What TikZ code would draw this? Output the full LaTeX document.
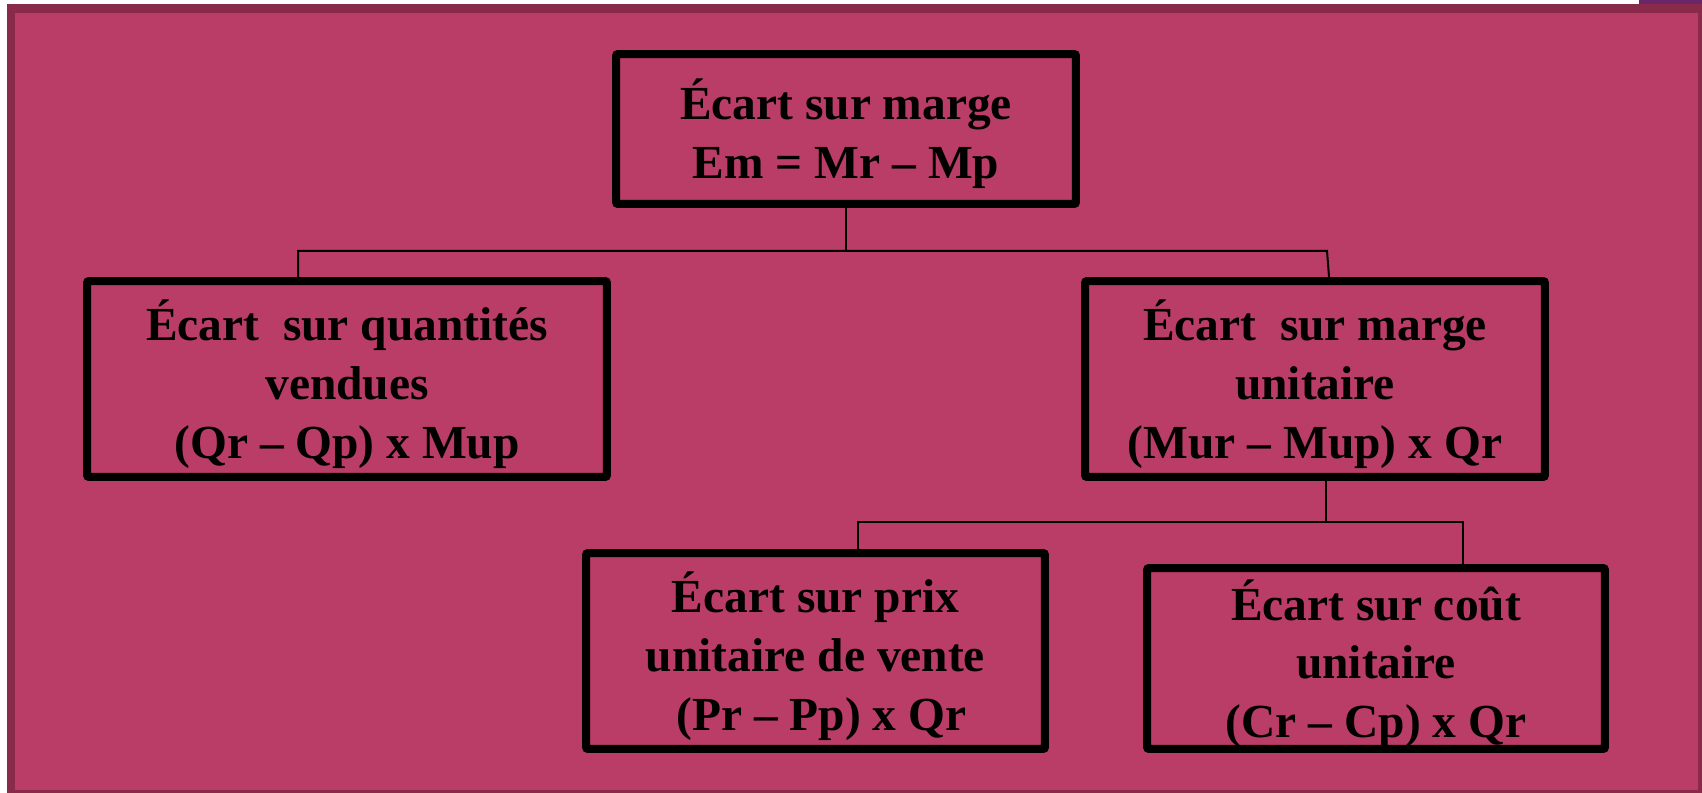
\documentclass[tikz,border=0pt]{standalone}
\usepackage{fontspec}
\setmainfont{Liberation Serif}
\usetikzlibrary{calc}
\definecolor{panelfill}{RGB}{185,61,102}
\definecolor{paneledge}{RGB}{138,42,74}
\definecolor{cornerpurple}{RGB}{105,38,105}
% extra room above the first line, so the text sits a little low in its box
\newcommand{\firstline}{\rule{0pt}{29pt}}
\tikzset{
  box/.style={draw=black, line width=0.16cm, rounded corners=0.04cm,
    inner sep=0pt, align=center, font=\fontsize{27}{33.5}\selectfont\bfseries},
  link/.style={draw=black, line width=0.04cm, line join=miter}
}
\begin{document}
\begin{tikzpicture}[x=0.02cm, y=-0.02cm]
  \useasboundingbox (0,0) rectangle (1702,793);
  % slide panel with its darker rim
  \fill[cornerpurple] (1639,0) rectangle (1702,4);
  \fill[paneledge] (7,4) rectangle (1702,793);
  \fill[panelfill] (15,13) rectangle (1698,790);

  % boxes
  \node[box, minimum width=9.2cm, minimum height=3.0cm] (em) at (846,129)
    {\firstline Écart sur marge\\Em = Mr – Mp};
  \node[box, minimum width=10.4cm, minimum height=3.92cm] (qte) at (347,379)
    {\firstline Écart\ \ sur quantités\\vendues\\(Qr – Qp) x Mup};
  \node[box, minimum width=9.2cm, minimum height=3.92cm] (mu) at (1315,379)
    {\firstline Écart\ \ sur marge\\unitaire\\(Mur – Mup) x Qr};
  \node[box, minimum width=9.18cm, minimum height=3.92cm] (prix) at (815.5,651)
    {\firstline Écart sur prix\\unitaire de vente\\\ (Pr – Pp) x Qr};
  \node[box, minimum width=9.16cm, minimum height=3.62cm] (cout) at (1376,658.5)
    {\firstline Écart sur coût\\unitaire\\(Cr – Cp) x Qr};

  % first level of the tree
  \coordinate (h1l) at (298,251);
  \coordinate (h1r) at (1327,251);
  \coordinate (mutop) at (1329,277);
  \draw[link] (em.south) -- (em.south |- h1l);
  \draw[link] (qte.north -| h1l) -- (h1l) -- (h1r) -- (mutop);

  % second level
  \coordinate (h2l) at (858,522);
  \coordinate (h2r) at (1463,522);
  \draw[link] (mu.south -| 1326,0) -- (h2l -| 1326,0);
  \draw[link] (prix.north -| h2l) -- (h2l) -- (h2r) -- (cout.north -| h2r);
\end{tikzpicture}
\end{document}
